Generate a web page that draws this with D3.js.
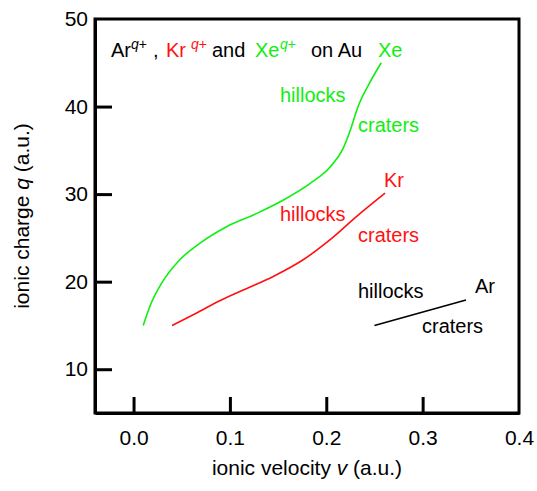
<!DOCTYPE html>
<html lang="en">
<head>
    <script src="https://d3js.org/d3.v7.min.js"></script>
    <title>Ionic charge vs velocity</title>
    <style>
        body { margin: 0; background: #fff; }
        text { font-family: Arial, "Liberation Sans", sans-serif; }
    </style>
</head>
<body>
    <svg width="537" height="491"></svg>
    <script>

        // ionic velocity v (a.u.) / ionic charge q (a.u.)
        var xeV = [0.010, 0.017, 0.029, 0.048, 0.069, 0.097, 0.128, 0.155, 0.183, 0.204, 0.217, 0.224, 0.233, 0.245, 0.257];
        var xeQ = [15.0, 17.2, 19.8, 22.5, 24.4, 26.3, 27.8, 29.3, 31.2, 33.1, 35.1, 37.0, 40.0, 42.7, 45.0];

        var krV = [0.040, 0.065, 0.090, 0.117, 0.145, 0.176, 0.204, 0.231, 0.261];
        var krQ = [15.0, 16.4, 17.85, 19.2, 20.6, 22.5, 24.8, 27.4, 30.1];

        var arV = [0.250, 0.345];
        var arQ = [15.0, 17.9];

        var xTicks = [0.0, 0.1, 0.2, 0.3, 0.4];
        var yTicks = [10, 20, 30, 40, 50];

        var green = "#11ee11",
            red = "#ff1111";

        var svg = d3.select("svg"),
            x0 = 95, x1 = 519, y0 = 19, y1 = 413;

        var xScale = d3.scaleLinear().domain([-0.04, 0.4]).range([x0, x1]),
            yScale = d3.scaleLinear().domain([5, 50]).range([y1, y0]);

        // x axis, ticks pointing inwards
        var gx = svg.append("g")
            .attr("transform", "translate(0," + y1 + ")")
            .call(d3.axisBottom(xScale).tickValues(xTicks).tickFormat(d3.format(".1f"))
                .tickSizeInner(-16).tickSizeOuter(0).tickPadding(17));

        var gy = svg.append("g")
            .attr("transform", "translate(" + x0 + ",0)")
            .call(d3.axisLeft(yScale).tickValues(yTicks).tickFormat(d3.format("d"))
                .tickSizeInner(-17).tickSizeOuter(0).tickPadding(7));

        [gx, gy].forEach(function (g) {
            g.selectAll("line, path").attr("stroke", "#000").attr("stroke-width", 3);
            g.selectAll("text").style("font-size", "21px").attr("fill", "#000")
                .style("font-family", "Arial, 'Liberation Sans', sans-serif");
        });
        gx.selectAll(".tick line").filter(function (d) { return d === 0.4; }).remove();
        gy.selectAll(".tick line").filter(function (d) { return d === 50; }).remove();

        // frame
        svg.append("rect")
            .attr("x", x0).attr("y", y0)
            .attr("width", x1 - x0).attr("height", y1 - y0)
            .attr("fill", "none").attr("stroke", "#000").attr("stroke-width", 3);

        // axis titles
        var xt = svg.append("text")
            .attr("x", (x0 + x1) / 2).attr("y", 475)
            .attr("text-anchor", "middle").style("font-size", "21px");
        xt.append("tspan").text("ionic velocity ");
        xt.append("tspan").style("font-style", "italic").text("v");
        xt.append("tspan").text(" (a.u.)");

        var yt = svg.append("text")
            .attr("transform", "translate(29," + (y0 + y1) / 2 + ")rotate(-90)")
            .attr("text-anchor", "middle").style("font-size", "21px");
        yt.append("tspan").text("ionic charge ");
        yt.append("tspan").style("font-style", "italic").text("q");
        yt.append("tspan").text(" (a.u.)");

        // curves
        var line = d3.line()
            .x(function (d) { return xScale(d[0]); })
            .y(function (d) { return yScale(d[1]); })
            .curve(d3.curveMonotoneX);

        [[xeV, xeQ, green], [krV, krQ, red], [arV, arQ, "#000"]].forEach(function (s) {
            svg.append("path")
                .datum(d3.zip(s[0], s[1]))
                .attr("d", line)
                .attr("fill", "none")
                .attr("stroke", s[2])
                .attr("stroke-width", 1.6);
        });

        // labels
        function label(x, y, txt, col) {
            svg.append("text")
                .attr("x", x).attr("y", y)
                .attr("fill", col)
                .style("font-size", "20px")
                .text(txt);
        }

        function sup(x, y, col) {
            var t = svg.append("text").attr("x", x).attr("y", y)
                .attr("fill", col).style("font-size", "14px");
            t.append("tspan").style("font-style", "italic").text("q");
            t.append("tspan").text("+");
        }

        label(111, 57, "Ar", "#000");
        sup(131, 49, "#000");
        label(153, 57, ",", "#000");
        label(166, 57, "Kr", red);
        sup(191, 49, red);
        label(212, 57, "and", "#000");
        label(255, 57, "Xe", green);
        sup(280, 49, green);
        label(311, 57, "on Au", "#000");

        label(378, 57, "Xe", green);
        label(280, 102, "hillocks", green);
        label(358, 132, "craters", green);

        label(384, 187, "Kr", red);
        label(280, 221, "hillocks", red);
        label(358, 242, "craters", red);

        label(475, 293, "Ar", "#000");
        label(358, 298, "hillocks", "#000");
        label(422, 333, "craters", "#000");

    </script>
</body>
</html>
